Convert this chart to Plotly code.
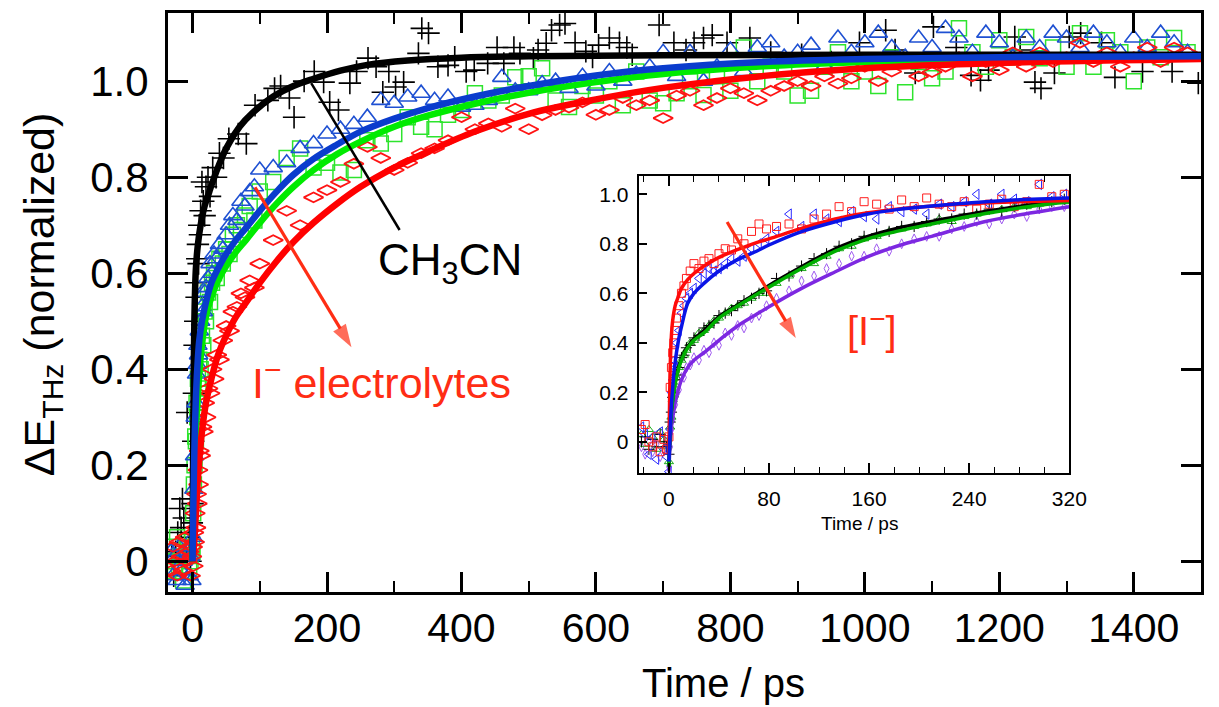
import plotly.graph_objects as go

# ---------------- main panel data ----------------
main_time = [-32, -29, -26, -23, -20, -17, -14, -11, -8, -5, -3, -1,
             0, 1, 2, 3, 4, 5, 6, 7, 8, 9, 10, 12, 14, 16, 18, 20, 23, 26, 29, 32,
             36, 40, 45, 50, 55, 60, 66, 72, 78, 85, 92,
             100, 120, 140, 160, 180, 200, 220, 240, 260, 280,
             300, 320, 340, 360, 380, 400, 420, 440, 460, 480,
             500, 520, 540, 560, 580, 600, 620, 640, 660, 680,
             700, 720, 740, 760, 780, 800, 820, 840, 860, 880,
             900, 920, 940, 960, 980, 1000, 1020, 1040, 1060, 1080,
             1100, 1120, 1140, 1160, 1180, 1200, 1220, 1240, 1260, 1280,
             1300, 1320, 1340, 1360, 1380, 1400, 1420, 1440, 1460, 1480]

blue_y = [0.02, -0.03, 0.01, -0.04, 0.03, -0.02, 0.0, -0.05, 0.02, -0.03, 0.01, -0.04,
          -0.08, 0.05, 0.15, 0.22, 0.3, 0.33, 0.39, 0.41, 0.45, 0.43, 0.48, 0.5, 0.53, 0.52, 0.56,
          0.57, 0.59, 0.62, 0.6, 0.64, 0.63, 0.66, 0.65, 0.68, 0.7, 0.72, 0.71, 0.75, 0.74, 0.77, 0.78,
          0.815, 0.82, 0.83, 0.86, 0.87, 0.89, 0.9, 0.91, 0.925, 0.96,
          0.954, 0.967, 0.975, 0.96, 0.967, 0.946, 0.95, 0.96, 1.008, 0.98,
          0.98, 0.995, 1.0, 0.985, 1.01, 0.99, 1.02, 1.0, 1.015, 1.03,
          1.06, 1.01, 1.06, 1.0, 1.03, 1.065, 1.02, 1.07, 1.08, 1.05,
          1.06, 1.075, 1.03, 1.09, 1.06, 1.08, 1.1, 1.07, 1.05, 1.09,
          1.07, 1.11, 1.09, 1.06, 1.1, 1.08, 1.05, 1.09, 1.07, 1.1,
          1.09, 1.07, 1.1, 1.08, 1.06, 1.09, 1.07, 1.1, 1.08, 1.06]

green_y = [0.0, 0.03, -0.02, 0.05, -0.01, 0.02, -0.04, 0.01, 0.04, -0.02, 0.0, 0.03,
           0.02, 0.1, 0.16, 0.2, 0.26, 0.25, 0.33, 0.3, 0.38, 0.36, 0.42, 0.4, 0.47, 0.45, 0.52,
           0.5, 0.56, 0.54, 0.58, 0.6, 0.59, 0.63, 0.62, 0.65, 0.64, 0.68, 0.7, 0.69, 0.72, 0.74, 0.71,
           0.77, 0.79, 0.84, 0.86, 0.82, 0.83, 0.81, 0.815, 0.877, 0.87,
           0.89, 0.925, 0.905, 0.9, 0.93, 0.94, 0.975, 0.96, 0.97, 1.008,
           1.01, 1.027, 0.96, 0.946, 0.99, 0.97, 1.0, 0.95, 1.02, 0.96,
           0.954, 0.975, 1.0, 0.971, 1.01, 0.98, 1.07, 1.0, 1.03, 1.02,
           0.97, 0.98, 1.03, 1.06, 1.0, 1.02, 0.99, 1.05, 0.977, 1.04,
           1.006, 1.02, 1.11, 1.06, 1.03, 1.085, 1.05, 1.092, 1.048, 1.07,
           1.03, 1.1, 1.03, 1.085, 1.06, 1.0, 1.07, 1.05, 1.09, 1.06]

red_y = [-0.02, 0.03, 0.0, -0.03, 0.04, 0.01, -0.02, 0.05, 0.0, 0.02, -0.03, 0.01,
         0.03, -0.01, 0.06, 0.04, 0.1, 0.07, 0.14, 0.12, 0.19, 0.16, 0.23, 0.22, 0.28, 0.27, 0.33,
         0.3, 0.36, 0.35, 0.4, 0.38, 0.43, 0.42, 0.46, 0.49, 0.48, 0.52, 0.53, 0.558, 0.55, 0.585, 0.57,
         0.62, 0.669, 0.73, 0.7, 0.758, 0.773, 0.79, 0.828, 0.863, 0.84,
         0.815, 0.83, 0.85, 0.86, 0.877, 0.925, 0.9, 0.912, 0.905, 0.943,
         0.9, 0.929, 0.94, 0.945, 0.956, 0.93, 0.94, 0.965, 0.95, 0.96,
         0.923, 0.97, 0.98, 0.95, 0.965, 0.985, 0.975, 0.96, 0.98, 0.99,
         1.0, 0.99, 1.01, 0.995, 1.006, 1.03, 1.0, 1.02, 1.04, 1.01,
         1.019, 1.03, 1.05, 1.01, 1.04, 1.023, 1.06, 1.03, 1.06, 1.04,
         1.05, 1.08, 1.04, 1.06, 1.03, 1.05, 1.07, 1.04, 1.07, 1.06]

black_time = [-31, -28, -25, -22, -19, -17, -15, -13, -10, -8,
              -5, -3, -1, 0, 1, 2, 3, 4, 5, 6,
              7, 8, 9, 10, 11, 12, 14, 16, 18, 20,
              23, 26, 30, 35, 40, 46, 54, 68, 80, 93,
              112, 122, 131, 144, 151, 166, 181, 195, 204, 217,
              234, 244, 261, 273, 283, 292, 302, 314, 336, 341,
              351, 365, 380, 390, 407, 419, 439, 453, 463, 478,
              487, 507, 514, 526, 534, 546, 554, 569, 585, 595,
              604, 620, 635, 646, 654, 694, 716, 734, 746, 760,
              773, 795, 829, 860, 906, 950, 992, 1031, 1045, 1075,
              1102, 1136, 1158, 1172, 1184, 1223, 1231, 1253, 1262, 1282,
              1304, 1321, 1352, 1372, 1413, 1457, 1496]
black_y = [0.01, -0.03, 0.02, 0.06, 0.11, 0.07, 0.13, 0.09, 0.02, 0.31,
           0.05, 0.0, 0.08, 0.12, 0.25, 0.35, 0.45, 0.5, 0.58, 0.55,
           0.63, 0.66, 0.62, 0.7, 0.68, 0.73, 0.79, 0.75, 0.72, 0.78,
           0.8, 0.76, 0.82, 0.8, 0.85, 0.84, 0.88, 0.89, 0.87, 0.95,
           0.96, 0.985, 0.99, 0.965, 0.925, 1.0, 1.02, 0.998, 0.956, 0.94,
           0.996, 1.02, 1.048, 1.03, 0.977, 1.02, 0.988, 0.998, 1.058, 1.11,
           1.1, 1.03, 1.033, 1.05, 1.02, 1.023, 1.037, 1.07, 1.037, 1.07,
           1.058, 1.048, 1.065, 1.079, 1.106, 1.117, 1.12, 1.08, 1.062, 1.05,
           1.075, 1.09, 1.08, 1.07, 1.055, 1.117, 1.08, 1.065, 1.08, 1.09,
           1.096, 1.08, 1.09, 1.06, 1.055, 1.04, 1.08, 1.106, 1.065, 1.017,
           1.113, 1.07, 1.012, 1.002, 1.023, 1.092, 1.065, 0.998, 0.985, 1.017,
           1.092, 1.1, 1.08, 1.008, 1.02, 1.02, 0.996]

fit_time = [0, 1, 2, 3, 5, 7, 10, 14, 20, 28, 38, 50, 65, 80, 100, 125, 150, 180, 215, 250,
            300, 350, 420, 500, 600, 700, 850, 1000, 1200, 1500]
fit_blue = [0, 0.1, 0.18, 0.25, 0.34, 0.4, 0.46, 0.5, 0.54, 0.58, 0.61, 0.64, 0.67, 0.695, 0.73,
            0.77, 0.805, 0.838, 0.868, 0.895, 0.922, 0.944, 0.968, 0.99, 1.012, 1.027, 1.04,
            1.046, 1.05, 1.052]
fit_green = [0, 0.07, 0.13, 0.19, 0.27, 0.32, 0.39, 0.45, 0.51, 0.55, 0.585, 0.615, 0.645, 0.67,
             0.705, 0.745, 0.78, 0.815, 0.848, 0.874, 0.905, 0.928, 0.953, 0.976, 0.998, 1.015,
             1.031, 1.04, 1.046, 1.049]
fit_red = [0, 0.01, 0.03, 0.05, 0.1, 0.15, 0.21, 0.27, 0.33, 0.38, 0.43, 0.47, 0.51, 0.54, 0.58,
           0.625, 0.665, 0.705, 0.745, 0.78, 0.82, 0.853, 0.895, 0.932, 0.962, 0.986, 1.011, 1.027,
           1.038, 1.046]
fit_black_time = [0, 1, 2, 3, 5, 8, 12, 18, 25, 35, 50, 70, 90, 120, 150, 180, 220, 260, 320,
                  400, 500, 700, 1000, 1500]
fit_black = [0, 0.25, 0.42, 0.52, 0.61, 0.66, 0.70, 0.74, 0.77, 0.81, 0.86, 0.905, 0.935, 0.968,
             0.99, 1.005, 1.022, 1.034, 1.043, 1.049, 1.052, 1.054, 1.055, 1.055]

main_xticks = [0, 200, 400, 600, 800, 1000, 1200, 1400]
main_yticks = [0, 0.2, 0.4, 0.6, 0.8, 1.0]
main_yticktext = ["0", "0.2", "0.4", "0.6", "0.8", "1.0"]

# ---------------- inset data ----------------
inset_time = [-22, -19, -16, -13, -10, -7, -4, -2,
              0, 1, 2, 3, 4, 5, 6, 8, 10, 12, 14, 17, 20, 24, 28, 32, 36, 40, 45, 50, 55, 60,
              66, 72, 78,
              86, 96, 106, 116, 126, 136, 146, 156, 166, 176, 186, 196, 206, 216, 226, 236,
              246, 256, 266, 276, 286, 296, 306, 316]
in_red = [0.05, 0.07, 0.0, -0.02, 0.02, -0.04, 0.01, -0.03,
          0.02, 0.22, 0.3, 0.36, 0.4, 0.45, 0.5, 0.55, 0.6, 0.63, 0.66, 0.69, 0.72, 0.7, 0.73,
          0.74, 0.72, 0.76, 0.78, 0.775, 0.82, 0.8, 0.85, 0.88, 0.86,
          0.87, 0.88, 0.86, 0.9, 0.92, 0.95, 0.93, 0.97, 0.96, 0.94, 0.977, 0.95, 0.985, 0.96,
          0.95, 0.97, 0.94, 0.96, 0.98, 0.95, 0.97, 1.04, 0.99, 1.0]
in_blue = [0.06, 0.03, -0.05, 0.02, -0.07, 0.04, -0.03, -0.06,
           -0.12, 0.05, 0.2, 0.25, 0.33, 0.3, 0.4, 0.45, 0.52, 0.55, 0.58, 0.6, 0.62, 0.66, 0.68,
           0.7, 0.69, 0.7, 0.72, 0.74, 0.73, 0.75, 0.78, 0.8, 0.82,
           0.85, 0.92, 0.87, 0.92, 0.9, 0.89, 0.93, 0.91, 0.9, 0.95, 0.93, 0.94, 0.92, 0.96,
           0.95, 0.97, 1.0, 0.96, 1.0, 0.98, 0.97, 1.04, 0.99, 1.0]
in_black = [0.0, 0.02, -0.03, 0.01, -0.02, 0.03, 0.0, -0.02,
            -0.05, 0.08, 0.12, 0.18, 0.2, 0.25, 0.27, 0.3, 0.34, 0.35, 0.38, 0.39, 0.42, 0.43, 0.46,
            0.47, 0.48, 0.51, 0.52, 0.53, 0.55, 0.57, 0.58, 0.6, 0.61,
            0.66, 0.67, 0.71, 0.74, 0.76, 0.79, 0.8, 0.83, 0.84, 0.85, 0.87, 0.87, 0.89, 0.9,
            0.9, 0.92, 0.92, 0.94, 0.93, 0.95, 0.96, 0.96, 0.97, 0.98]
in_green = [0.03, -0.01, 0.05, 0.02, -0.03, 0.04, 0.01, -0.02,
            -0.08, 0.06, 0.1, 0.17, 0.19, 0.23, 0.26, 0.3, 0.33, 0.35, 0.37, 0.4, 0.41, 0.44, 0.45,
            0.47, 0.49, 0.5, 0.52, 0.54, 0.55, 0.56, 0.58, 0.6, 0.6,
            0.64, 0.67, 0.7, 0.72, 0.75, 0.78, 0.79, 0.82, 0.83, 0.85, 0.86, 0.87, 0.88, 0.9,
            0.89, 0.91, 0.92, 0.93, 0.94, 0.95, 0.95, 0.96, 0.97, 0.97]
in_purple = [-0.02, -0.05, 0.0, -0.04, -0.01, -0.06, -0.03, 0.0,
             -0.1, -0.02, 0.05, 0.09, 0.14, 0.15, 0.19, 0.21, 0.26, 0.26, 0.3, 0.31, 0.34, 0.33,
             0.37, 0.36, 0.4, 0.39, 0.44, 0.43, 0.47, 0.46, 0.5, 0.51, 0.55,
             0.58, 0.61, 0.65, 0.67, 0.7, 0.72, 0.75, 0.75, 0.78, 0.77, 0.8, 0.82, 0.83, 0.83,
             0.86, 0.87, 0.89, 0.88, 0.9, 0.92, 0.91, 0.94, 0.95, 0.95]

in_fit_time_red = [0, 0.5, 1, 2, 3, 5, 7, 10, 15, 20, 28, 40, 54, 70, 80, 106, 133, 159, 182,
                   210, 240, 280, 320]
in_fit_red = [-0.05, 0.15, 0.3, 0.43, 0.49, 0.55, 0.58, 0.62, 0.655, 0.68, 0.71, 0.745, 0.775,
              0.805, 0.82, 0.862, 0.9, 0.925, 0.94, 0.952, 0.962, 0.97, 0.975]
in_fit_time_blue = [0, 1, 2, 3, 4, 6, 8, 10, 15, 20, 28, 40, 54, 70, 80, 106, 133, 159, 182,
                    210, 253, 290, 320]
in_fit_blue = [-0.08, 0.05, 0.15, 0.22, 0.28, 0.36, 0.42, 0.465, 0.56, 0.6, 0.64, 0.69, 0.734,
               0.77, 0.795, 0.849, 0.889, 0.92, 0.938, 0.953, 0.97, 0.98, 0.985]
in_fit_time = [0, 1, 2, 4, 6, 10, 15, 20, 28, 40, 54, 70, 80, 106, 133, 159, 182, 210, 253,
               290, 320]
in_fit_black = [-0.1, 0.06, 0.13, 0.21, 0.27, 0.335, 0.385, 0.415, 0.45, 0.505, 0.55, 0.6,
                0.632, 0.707, 0.78, 0.83, 0.862, 0.89, 0.93, 0.958, 0.975]
in_fit_green = [-0.1, 0.05, 0.12, 0.2, 0.26, 0.33, 0.38, 0.41, 0.44, 0.5, 0.546, 0.595, 0.625,
                0.7, 0.77, 0.82, 0.85, 0.88, 0.922, 0.952, 0.97]
in_fit_purple = [-0.12, 0.0, 0.06, 0.13, 0.18, 0.25, 0.3, 0.33, 0.36, 0.41, 0.465, 0.515, 0.546,
                 0.62, 0.687, 0.748, 0.79, 0.83, 0.89, 0.925, 0.95]

inset_xticks = [0, 80, 160, 240, 320]
inset_yticks = [0, 0.2, 0.4, 0.6, 0.8, 1.0]
inset_yticktext = ["0", "0.2", "0.4", "0.6", "0.8", "1.0"]

# annotation arrows (tail -> head), in axis units
main_arrow_x = [93, 236.4]
main_arrow_y = [0.779, 0.446]
inset_arrow_x = [46.5, 101.4]
inset_arrow_y = [0.888, 0.419]

FONT = "Liberation Sans, Arial, Helvetica, sans-serif"
ANN_RED = "rgb(255,45,20)"

fig = go.Figure()

# main markers
fig.add_trace(go.Scatter(x=black_time, y=black_y, mode="markers",
                         marker=dict(symbol="cross-thin-open", size=16, color="black",
                                     line=dict(width=1.6, color="black"))))
fig.add_trace(go.Scatter(x=main_time, y=green_y, mode="markers",
                         marker=dict(symbol="square-open", size=15, color="rgb(45,228,45)",
                                     line=dict(width=1.5, color="rgb(45,228,45)"))))
fig.add_trace(go.Scatter(x=main_time, y=blue_y, mode="markers",
                         marker=dict(symbol="triangle-up-open", size=16, color="rgb(30,80,210)",
                                     line=dict(width=1.6, color="rgb(30,80,210)"))))
fig.add_trace(go.Scatter(x=main_time, y=red_y, mode="markers",
                         marker=dict(symbol="diamond-wide-open", size=14, color="rgb(255,20,20)",
                                     line=dict(width=1.8, color="rgb(255,20,20)"))))
# main fits
fig.add_trace(go.Scatter(x=fit_black_time, y=fit_black, mode="lines",
                         line=dict(color="black", width=6.5, shape="spline")))
fig.add_trace(go.Scatter(x=fit_time, y=fit_green, mode="lines",
                         line=dict(color="rgb(0,235,0)", width=6.5, shape="spline")))
fig.add_trace(go.Scatter(x=fit_time, y=fit_red, mode="lines",
                         line=dict(color="rgb(255,0,0)", width=6.5, shape="spline")))
fig.add_trace(go.Scatter(x=fit_time, y=fit_blue, mode="lines",
                         line=dict(color="rgb(10,60,205)", width=6.5, shape="spline")))

# inset markers
ins = dict(xaxis="x2", yaxis="y2")
fig.add_trace(go.Scatter(x=inset_time, y=in_purple, mode="markers", **ins,
                         marker=dict(symbol="diamond-tall-open", size=7, color="rgb(160,90,240)",
                                     line=dict(width=1, color="rgb(160,90,240)"))))
fig.add_trace(go.Scatter(x=inset_time, y=in_green, mode="markers", **ins,
                         marker=dict(symbol="triangle-up-open", size=8, color="rgb(30,170,30)",
                                     line=dict(width=1, color="rgb(30,170,30)"))))
fig.add_trace(go.Scatter(x=inset_time, y=in_black, mode="markers", **ins,
                         marker=dict(symbol="cross-thin-open", size=8, color="black",
                                     line=dict(width=1, color="black"))))
fig.add_trace(go.Scatter(x=inset_time, y=in_blue, mode="markers", **ins,
                         marker=dict(symbol="triangle-left-open", size=9, color="rgb(40,40,255)",
                                     line=dict(width=1, color="rgb(40,40,255)"))))
fig.add_trace(go.Scatter(x=inset_time, y=in_red, mode="markers", **ins,
                         marker=dict(symbol="square-open", size=8, color="rgb(255,30,30)",
                                     line=dict(width=1, color="rgb(255,30,30)"))))
# inset fits
fig.add_trace(go.Scatter(x=in_fit_time, y=in_fit_purple, mode="lines", **ins,
                         line=dict(color="rgb(125,40,225)", width=3.5, shape="spline")))
fig.add_trace(go.Scatter(x=in_fit_time, y=in_fit_black, mode="lines", **ins,
                         line=dict(color="black", width=3.5, shape="spline")))
fig.add_trace(go.Scatter(x=in_fit_time, y=in_fit_green, mode="lines", **ins,
                         line=dict(color="rgb(0,175,0)", width=3.5, shape="spline")))
fig.add_trace(go.Scatter(x=in_fit_time_red, y=in_fit_red, mode="lines", **ins,
                         line=dict(color="rgb(255,10,10)", width=3.5, shape="spline")))
fig.add_trace(go.Scatter(x=in_fit_time_blue, y=in_fit_blue, mode="lines", **ins,
                         line=dict(color="rgb(10,20,230)", width=3.5, shape="spline")))

# arrows (line + arrow-head marker oriented along the segment)
fig.add_trace(go.Scatter(x=main_arrow_x, y=main_arrow_y, mode="lines+markers",
                         line=dict(color=ANN_RED, width=3.2),
                         marker=dict(symbol=["circle", "arrow"], size=[0, 24], angleref="previous",
                                     color=ANN_RED, line=dict(width=0))))
fig.add_trace(go.Scatter(x=inset_arrow_x, y=inset_arrow_y, mode="lines+markers", **ins,
                         line=dict(color=ANN_RED, width=3.2),
                         marker=dict(symbol=["circle", "arrow"], size=[0, 22], angleref="previous",
                                     color=ANN_RED, line=dict(width=0))))

axis_common = dict(showline=True, linecolor="black", ticks="inside", tickcolor="black",
                   showgrid=False, zeroline=False)

# page body has an 8 px margin, so the figure is 8 px smaller and margins shifted
fig.update_layout(
    width=1211, height=699,
    margin=dict(l=160, r=0, t=5, b=115),
    paper_bgcolor="white", plot_bgcolor="white",
    showlegend=False,
    font=dict(family=FONT, color="black"),
    xaxis=dict(**axis_common, range=[-36.5, 1500], linewidth=3, mirror="ticks",
               ticklen=20, tickwidth=2.5, tickvals=main_xticks,
               ticktext=[str(v) for v in main_xticks],
               tickfont=dict(size=41, family=FONT), ticklabelstandoff=-2,
               minor=dict(dtick=100, tick0=0, ticks="inside", ticklen=11, tickwidth=2,
                          tickcolor="black", showgrid=False)),
    yaxis=dict(**axis_common, range=[-0.064, 1.142], linewidth=3, mirror="ticks",
               ticklen=20, tickwidth=2.5, tickvals=main_yticks, ticktext=main_yticktext,
               tickfont=dict(size=42, family=FONT), ticklabelstandoff=8),
    xaxis2=dict(**axis_common, domain=[0.4555, 0.8725], anchor="y2", range=[-24.3, 320],
                linewidth=1.8, mirror="ticks", ticklen=10, tickwidth=1.5,
                tickvals=inset_xticks, ticktext=[str(v) for v in inset_xticks],
                tickfont=dict(size=21, family=FONT), ticklabelstandoff=6,
                minor=dict(dtick=20, tick0=0, ticks="inside", ticklen=6, tickwidth=1.3,
                           tickcolor="black", showgrid=False)),
    yaxis2=dict(**axis_common, domain=[0.205, 0.719], anchor="x2", range=[-0.127, 1.075],
                linewidth=1.8, mirror=True, ticklen=9, tickwidth=1.5,
                tickvals=inset_yticks, ticktext=inset_yticktext,
                tickfont=dict(size=21, family=FONT), ticklabelstandoff=4),
)

# black line pointing to CH3CN curve
fig.add_shape(type="line", xref="x", yref="y", x0=176.5, y0=0.996, x1=308, y1=0.69,
              line=dict(color="black", width=2.5))

annotations = [
    dict(text="Time / ps", xref="paper", yref="paper", x=0.5376, y=-0.158,
         xanchor="center", yanchor="middle", showarrow=False,
         font=dict(size=40, family=FONT, color="black")),
    dict(text="ΔE<sub>THz</sub> (normalized)", xref="paper", yref="paper", x=-0.1218, y=0.513,
         xanchor="center", yanchor="middle", textangle=-90, showarrow=False,
         font=dict(size=43, family=FONT, color="black")),
    dict(text="Time / ps", xref="x2", yref="paper", x=152, y=0.119,
         xanchor="center", yanchor="middle", showarrow=False,
         font=dict(size=19, family=FONT, color="black")),
    dict(text="CH<sub>3</sub>CN", xref="x", yref="y", x=382.6, y=0.621, showarrow=False,
         xanchor="center", yanchor="middle", font=dict(size=44, family=FONT, color="black")),
    dict(text="I<sup>−</sup> electrolytes", xref="x", yref="y", x=281.7, y=0.377,
         xanchor="center", yanchor="middle", showarrow=False,
         font=dict(size=43, family=FONT, color=ANN_RED)),
    dict(text="[I<sup>−</sup>]", xref="x2", yref="y2", x=162, y=0.46, showarrow=False,
         xanchor="center", yanchor="middle", font=dict(size=40, family=FONT, color=ANN_RED)),
]
fig.update_layout(annotations=annotations)

fig.write_html("out.html")
